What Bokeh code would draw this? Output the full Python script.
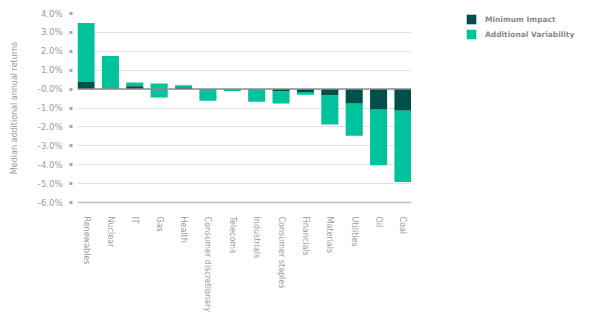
from bokeh.plotting import figure
from bokeh.layouts import row
from bokeh.models import (ColumnDataSource, FixedTicker, Span, Legend, LegendItem, Range1d)
from bokeh.embed import file_html
from bokeh.resources import INLINE

categories = ["Renewables", "Nuclear", "IT", "Gas", "Health", "Consumer discretionary",
              "Telecoms", "Industrials", "Consumer staples", "Financials", "Materials",
              "Utilities", "Oil", "Coal"]
minimum_impact = [0.38, 0.0, 0.15, 0.0, 0.09, 0.0, 0.0, 0.0, -0.10, -0.16, -0.32, -0.76, -1.08, -1.13]
variability_start = [0.38, 0.0, 0.15, 0.30, 0.09, 0.0, 0.0, 0.0, -0.10, -0.16, -0.32, -0.76, -1.08, -1.13]
variability_end = [3.50, 1.75, 0.35, -0.45, 0.20, -0.62, -0.10, -0.67, -0.76, -0.30, -1.87, -2.47, -4.03, -4.91]
y_ticks = [4, 3, 2, 1, 0, -1, -2, -3, -4, -5, -6]
y_tick_labels = ["4.0%", "3.0%", "2.0%", "1.0%", "-0.0%", "-1.0%", "-2.0%", "-3.0%", "-4.0%", "-5.0%", "-6.0%"]
series_names = ["Minimum Impact", "Additional Variability"]

DARK = "#004f4b"
LIGHT = "#00c29b"
GRAY = "#9a9a9a"
FONT = "DejaVu Sans"

xs = list(range(len(categories)))
src = ColumnDataSource(dict(x=xs, cat=categories, zero=[0.0] * len(xs), mi=minimum_impact,
                            vs=variability_start, ve=variability_end))

p = figure(width=411, height=328, output_backend="svg", toolbar_location=None,
           x_range=Range1d(-0.35, len(categories) - 0.65), y_range=Range1d(-6, 4),
           min_border_left=77, min_border_right=0, min_border_top=13, min_border_bottom=126)
p.outline_line_color = None
p.background_fill_color = "white"
p.border_fill_color = "white"

light = p.vbar(x="x", width=0.7, bottom="vs", top="ve", source=src, color=LIGHT, line_color=None)
dark = p.vbar(x="x", width=0.7, bottom="zero", top="mi", source=src, color=DARK, line_color=None)

p.add_layout(Span(location=0, dimension="width", line_color="#8c8c8c", line_width=1.5))

# y axis
p.yaxis.ticker = FixedTicker(ticks=y_ticks)
p.yaxis.major_label_overrides = {t: l for t, l in zip(y_ticks, y_tick_labels)}
p.yaxis.axis_line_color = None
p.yaxis.major_tick_in = -5
p.yaxis.major_tick_out = 8
p.yaxis.major_tick_line_width = 3
p.yaxis.major_tick_line_color = "#a8a8a8"
p.yaxis.minor_tick_line_color = None
p.yaxis.major_label_standoff = 7
p.yaxis.major_label_text_font = FONT
p.yaxis.major_label_text_font_size = "8.5px"
p.yaxis.major_label_text_color = GRAY
p.yaxis.axis_label = "Median additional annual returns"
p.yaxis.axis_label_text_font = FONT
p.yaxis.axis_label_text_font_size = "8px"
p.yaxis.axis_label_text_font_style = "normal"
p.yaxis.axis_label_text_color = GRAY
p.yaxis.axis_label_standoff = 16

# x axis
p.xaxis.ticker = FixedTicker(ticks=xs)
p.xaxis.major_label_overrides = {i: c for i, c in zip(xs, categories)}
p.xaxis.major_label_orientation = "vertical"
p.xaxis.major_tick_line_color = None
p.xaxis.minor_tick_line_color = None
p.xaxis.axis_line_color = "#bdbdbd"
p.xaxis.axis_line_width = 1.5
p.xaxis.major_label_standoff = 8
p.xaxis.major_label_text_font = FONT
p.xaxis.major_label_text_font_size = "8px"
p.xaxis.major_label_text_color = GRAY

p.xgrid.grid_line_color = None
p.ygrid.grid_line_color = "#e2e2e2"
p.ygrid.grid_line_width = 1

# legend panel
p2 = figure(width=179, height=328, output_backend="svg", toolbar_location=None,
            x_range=Range1d(0, 1), y_range=Range1d(0, 1),
            min_border_left=0, min_border_right=0, min_border_top=13, min_border_bottom=126)
p2.outline_line_color = None
p2.axis.visible = False
p2.grid.grid_line_color = None
offscreen = ColumnDataSource(dict(x=[-10], top=[-10]))
leg_dark = p2.vbar(x="x", top="top", width=0.1, source=offscreen, color=DARK, line_color=None)
leg_light = p2.vbar(x="x", top="top", width=0.1, source=offscreen, color=LIGHT, line_color=None)

legend = Legend(items=[LegendItem(label=series_names[0], renderers=[leg_dark]),
                       LegendItem(label=series_names[1], renderers=[leg_light])],
                location=(54, 162), padding=0, margin=0, spacing=3,
                glyph_width=12, glyph_height=12, label_standoff=8,
                label_text_font=FONT, label_text_font_size="7.5px",
                label_text_font_style="bold",
                label_text_color="#8a8a8a", label_height=12,
                border_line_color=None, background_fill_alpha=0)
p2.add_layout(legend, "center")

open("out.html", "w").write(file_html(row(p, p2), INLINE))
